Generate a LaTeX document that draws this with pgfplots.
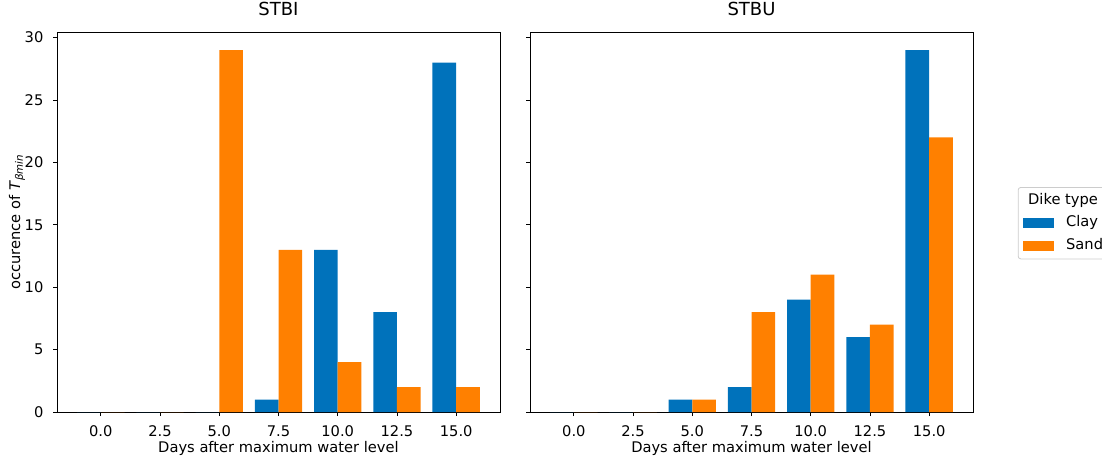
\documentclass[border=0pt]{standalone}
\usepackage{fontspec}
\setmainfont{DejaVu Sans}
\usepackage{pgfplots}
\pgfplotsset{compat=1.18}
\definecolor{clay}{RGB}{0,114,187}
\definecolor{sand}{RGB}{255,128,0}
\definecolor{legframe}{RGB}{204,204,204}

\pgfplotsset{
  panel/.style={
    scale only axis, width=332.25pt, height=285pt,
    anchor=south west,
    xmin=-1.85, xmax=16.85, ymin=0, ymax=30.45,
    ybar, bar width=1,
    xtick={0,2.5,5,7.5,10,12.5,15},
    xticklabels={0.0,2.5,5.0,7.5,10.0,12.5,15.0},
    ytick={0,5,10,15,20,25,30},
    tick align=outside, major tick length=3pt,
    tick style={black, line width=0.6pt},
    xtick pos=bottom, ytick pos=left,
    axis line style={black, line width=0.6pt},
    /pgf/number format/assume math mode=true,
    ticklabel style={font=\fontsize{11}{13}\selectfont, inner sep=0pt},
    xticklabel style={anchor=base, yshift=-15pt},
    yticklabel style={anchor=east, xshift=-7pt},
    label style={font=\fontsize{11}{13}\selectfont},
    xlabel={Days after maximum water level},
    xlabel style={at={(axis description cs:0.5,-0.107)}, anchor=base},
    title style={font=\fontsize{13.5}{16}\selectfont, at={(axis description cs:0.5,1)}, anchor=base, yshift=6pt},
    clip=false,
  },
  claybar/.style={fill=clay, draw=none, bar shift=-0.5},
  sandbar/.style={fill=sand, draw=none, bar shift=0.5},
}

\begin{document}
\begin{tikzpicture}
\useasboundingbox (0,0) rectangle (826.5pt,342.75pt);
\clip (0,0) rectangle (826.5pt,342.75pt);

% STBI
\begin{axis}[panel, at={(42.75pt,33.75pt)}, title={STBI},
  ylabel={occurence of \textit{T}\textsubscript{\textit{βmin}}},
  ylabel style={at={(axis description cs:-0.0835,0.5)}, anchor=base},
]
\addplot[claybar] coordinates {(0,0) (2.5,0) (5,0) (7.5,1) (10,13) (12.5,8) (15,28)};
\addplot[sandbar] coordinates {(0,0) (2.5,0) (5,29) (7.5,13) (10,4) (12.5,2) (15,2)};
\end{axis}

% STBU
\begin{axis}[panel, at={(397.5pt,33.75pt)}, title={STBU},
  yticklabels={},
  legend style={at={(axis description cs:1.101,0.592)}, anchor=north west,
    draw=legframe, line width=0.6pt, rounded corners=2pt,
    font=\fontsize{11}{13}\selectfont,
    nodes={inner sep=0pt, text height=8pt, text depth=2.6pt},
    inner xsep=4pt, inner ysep=4.6pt,
    column sep=9pt, row sep=6.3pt},
  legend cell align=left,
  legend image code/.code={\fill[#1, sharp corners] (0pt,-3.75pt) rectangle (23pt,3.75pt);},
]
\addlegendimage{empty legend}
\addlegendentry{\hspace*{-28.5pt}Dike type}
\addplot[claybar] coordinates {(0,0) (2.5,0) (5,1) (7.5,2) (10,9) (12.5,6) (15,29)};
\addlegendentry{Clay}
\addplot[sandbar] coordinates {(0,0) (2.5,0) (5,1) (7.5,8) (10,11) (12.5,7) (15,22)};
\addlegendentry{Sand}
\end{axis}
\end{tikzpicture}
\end{document}
